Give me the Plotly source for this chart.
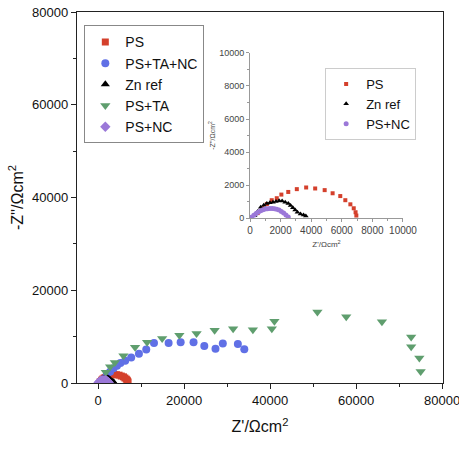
import plotly.graph_objects as go

# ---------- data (Z' , -Z'') ----------
ps_x = [500, 800, 1100, 1420, 1750, 2050, 2500, 3060, 3670, 4260, 4880, 5400, 5900, 6230, 6560, 6780, 6900, 6950]
ps_y = [300, 600, 850, 1080, 1200, 1420, 1580, 1750, 1850, 1790, 1690, 1500, 1330, 1080, 830, 590, 350, 150]

pstanc_x = [1300, 2000, 2800, 3600, 4400, 5200, 6300, 7700, 9500, 11200, 13000, 16400, 19200, 22200, 24700, 27300, 29000, 32500, 34000]
pstanc_y = [800, 1700, 2400, 3200, 3700, 4300, 4800, 5500, 6300, 7200, 8600, 8600, 8800, 8800, 8000, 7400, 8500, 8400, 7300]

zn_x = [300, 500, 700, 900, 1100, 1300, 1500, 1700, 1900, 2100, 2300, 2500, 2650, 2800, 2950, 3100, 3300, 3500, 3650]
zn_y = [150, 400, 650, 780, 880, 920, 960, 1000, 1050, 1030, 960, 880, 760, 620, 480, 350, 250, 180, 120]

psta_x = [1800, 2800, 3900, 5900, 8600, 11400, 14900, 18900, 22900, 27100, 31400, 36000, 40400, 41000, 51000, 57700, 66000, 72800, 72800, 74700, 75000]
psta_y = [2300, 3500, 4400, 5900, 7700, 8800, 9600, 10300, 10700, 11400, 11700, 11500, 11700, 13300, 15300, 14300, 13200, 9900, 7800, 5400, 2500]

psnc_x = [100, 250, 400, 550, 700, 850, 1000, 1150, 1300, 1450, 1600, 1750, 1900, 2050, 2200, 2350, 2500]
psnc_y = [50, 170, 280, 370, 440, 500, 540, 560, 570, 570, 560, 530, 480, 400, 300, 180, 60]

main_ticks = [0, 20000, 40000, 60000, 80000]
inset_ticks = [0, 2000, 4000, 6000, 8000, 10000]

RED = "#d4402c"
BLUE = "#6070e6"
GREEN = "#5f9e6e"
PURPLE = "#9b78d8"
BLACK = "#000000"
FONT = "Arial, Liberation Sans, sans-serif"

fig = go.Figure()

# main traces
fig.add_trace(go.Scatter(x=ps_x, y=ps_y, mode="markers", name="PS",
                         marker=dict(symbol="square", size=7, color=RED), legend="legend"))
fig.add_trace(go.Scatter(x=pstanc_x, y=pstanc_y, mode="markers", name="PS+TA+NC",
                         marker=dict(symbol="circle", size=8, color=BLUE), legend="legend"))
fig.add_trace(go.Scatter(x=zn_x, y=zn_y, mode="markers", name="Zn ref",
                         marker=dict(symbol="triangle-up", size=8, color=BLACK), legend="legend"))
fig.add_trace(go.Scatter(x=psta_x, y=psta_y, mode="markers", name="PS+TA",
                         marker=dict(symbol="triangle-down", size=9, color=GREEN), legend="legend"))
fig.add_trace(go.Scatter(x=psnc_x, y=psnc_y, mode="markers", name="PS+NC",
                         marker=dict(symbol="diamond", size=8, color=PURPLE), legend="legend"))

# inset traces
fig.add_trace(go.Scatter(x=ps_x, y=ps_y, mode="markers", name="PS", xaxis="x2", yaxis="y2",
                         marker=dict(symbol="square", size=4, color=RED), legend="legend2"))
fig.add_trace(go.Scatter(x=zn_x, y=zn_y, mode="markers", name="Zn ref", xaxis="x2", yaxis="y2",
                         marker=dict(symbol="triangle-up", size=5, color=BLACK), legend="legend2"))
fig.add_trace(go.Scatter(x=psnc_x, y=psnc_y, mode="markers", name="PS+NC", xaxis="x2", yaxis="y2",
                         marker=dict(symbol="circle", size=5, color=PURPLE), legend="legend2"))

fig.update_layout(
    width=459, height=454,
    margin=dict(l=77, r=16, t=12, b=71, autoexpand=False),
    paper_bgcolor="white", plot_bgcolor="white",
    font=dict(family=FONT, color="#111", size=13),
    xaxis=dict(range=[-4900, 80200], tickvals=main_ticks, tickformat="d", showgrid=False, zeroline=False,
               automargin=False, ticklabeloverflow="allow",
               showline=True, linecolor="#222", linewidth=1.3, mirror=True,
               ticks="outside", ticklen=5, tickcolor="#222",
               minor=dict(ticks="outside", ticklen=3, dtick=10000, tick0=0, tickcolor="#222"),
               tickfont=dict(size=13),
               title=dict(text="Z'/Ωcm<sup>2</sup>", font=dict(size=16), standoff=14)),
    yaxis=dict(range=[0, 80000], tickvals=main_ticks, tickformat="d", showgrid=False, zeroline=False,
               automargin=False, ticklabeloverflow="allow",
               showline=True, linecolor="#222", linewidth=1.3, mirror=True,
               ticks="outside", ticklen=5, tickcolor="#222",
               minor=dict(ticks="outside", ticklen=3, dtick=10000, tick0=0, tickcolor="#222"),
               tickfont=dict(size=13),
               title=dict(text="-Z''/Ωcm<sup>2</sup>", font=dict(size=16), standoff=4)),
    xaxis2=dict(domain=[0.4727, 0.8907], anchor="y2", range=[0, 10000], tickvals=inset_ticks, tickformat="d",
                automargin=False,
                showgrid=False, zeroline=False, showline=True, linecolor="#999", linewidth=1,
                ticks="outside", ticklen=3, tickcolor="#999",
                minor=dict(ticks="outside", ticklen=2, dtick=1000, tick0=0, tickcolor="#999"),
                tickfont=dict(size=10, color="#444"),
                title=dict(text="Z'/Ωcm<sup>2</sup>", font=dict(size=8, color="#444"), standoff=6)),
    yaxis2=dict(domain=[0.4447, 0.8895], anchor="x2", range=[0, 10000], tickvals=inset_ticks, tickformat="d",
                automargin=False,
                showgrid=False, zeroline=False, showline=True, linecolor="#999", linewidth=1,
                ticks="outside", ticklen=3, tickcolor="#999",
                minor=dict(ticks="outside", ticklen=2, dtick=1000, tick0=0, tickcolor="#999"),
                tickfont=dict(size=9, color="#444"),
                title=dict(text="-Z''/Ωcm<sup>2</sup>", font=dict(size=7, color="#444"), standoff=2)),
    legend=dict(x=0.02, y=0.964, xanchor="left", yanchor="top",
                bordercolor="#888", borderwidth=1, bgcolor="white",
                font=dict(size=14, color="#111")),
    legend2=dict(x=0.678, y=0.849, xanchor="left", yanchor="top",
                 bordercolor="#ccc", borderwidth=1, bgcolor="white",
                 font=dict(size=13, color="#111")),
)

fig.write_html("out.html")
